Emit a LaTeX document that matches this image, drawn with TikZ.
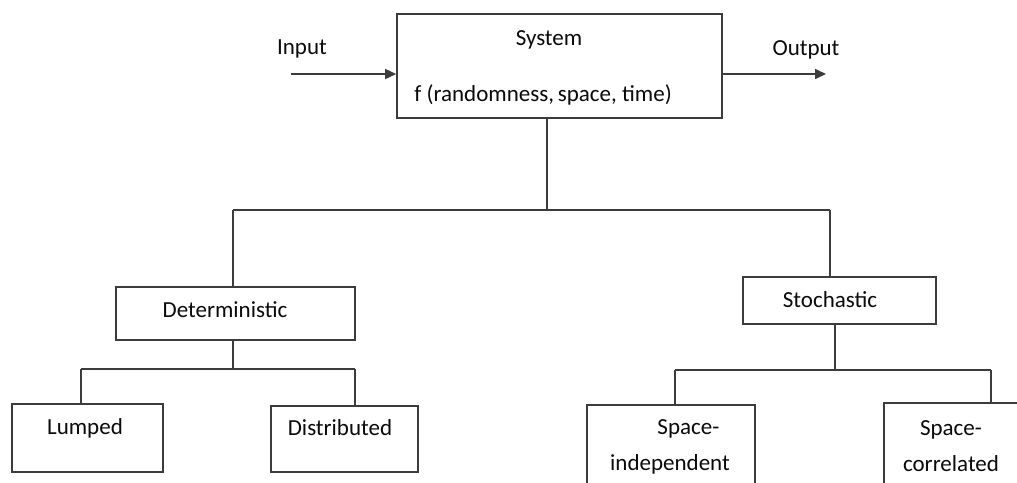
\documentclass[tikz,border=0pt]{standalone}
\usepackage{fontspec}
\setmainfont{Carlito}
\usetikzlibrary{arrows.meta,fit}
\definecolor{linegray}{RGB}{60,60,60}
\definecolor{inkblack}{RGB}{10,10,10}
\begin{document}
\begin{tikzpicture}[x=0.5pt,y=-0.5pt,
  box/.style={draw=linegray, line width=0.8pt, fill=white, inner sep=0pt},
  lbl/.style={text=inkblack, inner sep=0pt, font=\fontsize{11.5}{14}\selectfont},
  wire/.style={draw=linegray, line width=0.8pt},
  flow/.style={wire, -{Triangle[length=5.5pt,width=5pt]}}]
\useasboundingbox (0,0) rectangle (1017,482);
\clip (0,0) rectangle (1017,482);

% top level system block
\node[box, fit={(397,14) (722,118)}] (sys) {};
\node[lbl] (systitle) at (549,40) {System};
\node[lbl, anchor=west] (sysfunc) at (414,95) {f (randomness,\,space, time)};

% input and output
\coordinate (inp) at (291,74);
\coordinate (outp) at (826,74);
\node[lbl] (inplabel) at (302,49) {Input};
\node[lbl] (outlabel) at (806,50) {Output};
\draw[flow] (inp) -- (inp -| sys.west);
\draw[flow] (outp -| sys.east) -- (outp);

% second level
\node[box, fit={(116,287) (355,340)}] (det) {};
\node[lbl] (dettext) at (225,310) {Deterministic};
\node[box, fit={(743,277) (936,324)}] (sto) {};
\node[lbl] (stotext) at (830,300) {Stochastic};

% third level
\node[box, fit={(12,404) (163,472)}] (lump) {};
\node[lbl] (lumptext) at (85,428) {Lumped};
\node[box, fit={(271,406) (418,472)}] (dist) {};
\node[lbl] (disttext) at (340,428) {Distributed};
\node[box, fit={(587,405) (755,520)}] (sind) {};
\node[lbl, align=center] (sindtext) at (670,447) {\hspace*{1.6em}Space-\\[4pt]independent};
\node[box, fit={(884,403) (1060,520)}] (scor) {};
\node[lbl, align=center] (scortext) at (951,446) {Space-\\[4pt]correlated};

% branch junctions
\coordinate (j0) at (547,210);
\coordinate (j0l) at (233,210);
\coordinate (j0r) at (830,210);
\coordinate (j1) at (233,369);
\coordinate (j1l) at (81,369);
\coordinate (j1r) at (355,369);
\coordinate (j2) at (835,370);
\coordinate (j2l) at (675,370);
\coordinate (j2r) at (991,370);

% tree connectors
\draw[wire] (sys.south -| j0) -- (j0);
\draw[wire] (j0l) -- (j0r);
\draw[wire] (j0l) -- (det.north -| j0l);
\draw[wire] (j0r) -- (sto.north -| j0r);

\draw[wire] (det.south -| j1) -- (j1);
\draw[wire] (j1l) -- (j1r);
\draw[wire] (j1l) -- (lump.north -| j1l);
\draw[wire] (j1r) -- (dist.north -| j1r);

\draw[wire] (sto.south -| j2) -- (j2);
\draw[wire] (j2l) -- (j2r);
\draw[wire] (j2l) -- (sind.north -| j2l);
\draw[wire] (j2r) -- (scor.north -| j2r);
\end{tikzpicture}
\end{document}
